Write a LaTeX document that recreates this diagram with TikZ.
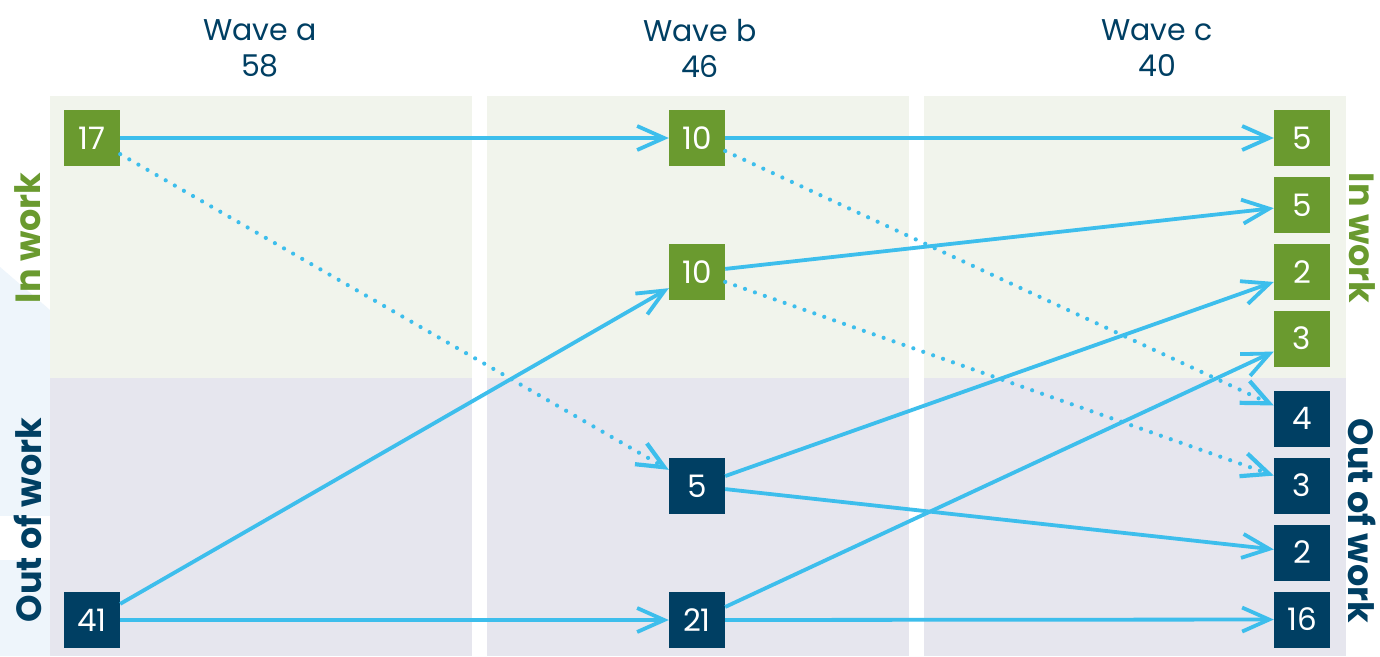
\documentclass[tikz,border=0pt]{standalone}
\usepackage{fontspec}
\setmainfont{Poppins}
\usetikzlibrary{arrows.meta}

\definecolor{panelwork}{HTML}{F1F4EC}
\definecolor{panelout}{HTML}{E6E6EE}
\definecolor{sidewash}{HTML}{EEF5FB}
\definecolor{workgreen}{HTML}{6A9A2F}
\definecolor{outnavy}{HTML}{003F63}
\definecolor{flow}{HTML}{3DBEEC}

\begin{document}
\begin{tikzpicture}[x=1pt,y=-1pt,
  box/.style={minimum size=56pt, inner sep=0pt, text=white,
    font=\fontsize{31}{31}\selectfont},
  inbox/.style={box, fill=workgreen},
  outbox/.style={box, fill=outnavy},
  header/.style={align=center, text=outnavy, font=\fontsize{30}{36}\selectfont},
  sidelabel/.style={font=\bfseries\fontsize{35}{35}\selectfont},
  move/.style={draw=flow, line width=3.8pt,
    -{Straight Barb[length=27pt,width=24pt]}},
  maybe/.style={move, line width=4.2pt, dash pattern=on 0pt off 10.5pt, line cap=round},
]
\useasboundingbox (0,0) rectangle (1380,656);
\fill[white] (0,0) rectangle (1380,656);

% pale wash along the left margin
\fill[sidewash] (0,267) -- (50,310) -- (50,656) -- (0,656) -- cycle;
\fill[white] (0,516) rectangle (50,560);

% wave panels: in work (top) and out of work (bottom)
\foreach \xa/\xb in {50/472, 487/909, 924/1346} {
  \fill[panelwork] (\xa,96) rectangle (\xb,378);
  \fill[panelout] (\xa,378) rectangle (\xb,656);
}

% column headers
\node[header] (ha) at (260,48) {Wave a\\58};
\node[header] (hb) at (700,48) {Wave b\\46};
\node[header] (hc) at (1157,48) {Wave c\\40};

% side labels
\node[sidelabel, text=workgreen, rotate=90] (lin) at (28,238) {In work};
\node[sidelabel, text=outnavy, rotate=90] (lout) at (28,520) {Out of work};
\node[sidelabel, text=workgreen, rotate=-90] (rin) at (1362,238) {In work};
\node[sidelabel, text=outnavy, rotate=-90] (rout) at (1362,521) {Out of work};

% wave a
\node[inbox]  (a1) at (92,138) {17};
\node[outbox] (a2) at (92,620) {41};

% wave b
\node[inbox]  (b1) at (697,138) {10};
\node[inbox]  (b2) at (697,272) {10};
\node[outbox] (b3) at (697,486) {5};
\node[outbox] (b4) at (697,620) {21};

% wave c
\node[inbox]  (c1) at (1302,138) {5};
\node[inbox]  (c2) at (1302,205) {5};
\node[inbox]  (c3) at (1302,272) {2};
\node[inbox]  (c4) at (1302,338.5) {3};
\node[outbox] (c5) at (1302,418.5) {4};
\node[outbox] (c6) at (1302,485.5) {3};
\node[outbox] (c7) at (1302,552.5) {2};
\node[outbox] (c8) at (1302,619.5) {16};

% transitions from wave a
\draw[move]  (a1) -- (b1);
\draw[maybe] (a1) -- (b3);
\draw[move]  (a2) -- (b2);
\draw[move]  (a2) -- (b4);

% transitions from wave b
\draw[move]  (b1) -- (c1);
\draw[maybe] (b1) -- (c5);
\draw[move]  (b2) -- (c2);
\draw[maybe] (b2) -- (c6);
\draw[move]  (b3) -- (c3);
\draw[move]  (b3) -- (c7);
\draw[move]  (b4) -- (c4);
\draw[move]  (b4) -- (c8);
\end{tikzpicture}
\end{document}
